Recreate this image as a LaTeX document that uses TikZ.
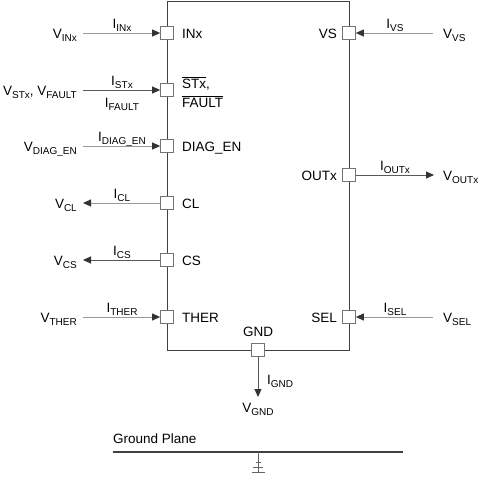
\documentclass[tikz,border=0pt]{standalone}
\usepackage{fontspec}
\setmainfont{Liberation Sans}
\usetikzlibrary{arrows.meta}
\newcommand\sbs[1]{\raisebox{-3.5pt}{\fontsize{10}{10}\selectfont #1}}
\newcommand\ovl[1]{$\overline{\mbox{#1}}$}
\begin{document}
\begin{tikzpicture}[x=1pt,y=-1pt,font=\fontsize{13.5}{16}\selectfont,
  chipbox/.style={draw=black!75,line width=1.3pt,inner sep=0pt},
  pinbox/.style={draw=black!55,fill=white,line width=0.7pt,minimum size=13pt,inner sep=0pt},
  txt/.style={inner sep=0pt},
  inarr/.style={draw=black!40,line width=1pt,-{Triangle[length=8pt,width=7pt,fill=black!80,color=black!80]}},
  outarr/.style={draw=black!65,line width=1pt,-{Triangle[length=8pt,width=7pt,fill=black!80,color=black!80]}},
  plane/.style={draw=black!75,line width=1.3pt},
  gnd/.style={draw=black!60,line width=1pt}]
\useasboundingbox (0,0) rectangle (479,483);
% chip
\node[chipbox,anchor=north west,minimum width=182pt,minimum height=349pt] (chip) at (167,1) {};
% pins left
\node[pinbox] (pINx) at (167,33) {};
\node[pinbox] (pSTx) at (167,90) {};
\node[pinbox] (pDIAG) at (167,146) {};
\node[pinbox] (pCL) at (167,203) {};
\node[pinbox] (pCS) at (167,260) {};
\node[pinbox] (pTHER) at (167,317) {};
% pins right
\node[pinbox] (pVS) at (349,33) {};
\node[pinbox] (pOUT) at (349,175) {};
\node[pinbox] (pSEL) at (349,317) {};
% pin bottom
\node[pinbox] (pGND) at (258,350) {};
% pin labels
\node[txt,anchor=base west] (lINx) at (182,38) {INx};
\node[txt,anchor=base west] (lSTx) at (182,88) {\ovl{STx},};
\node[txt,anchor=base west] (lFAULT) at (182,107) {\ovl{FAULT}};
\node[txt,anchor=base west] (lDIAG) at (182,151) {DIAG\_EN};
\node[txt,anchor=base west] (lCL) at (182,208) {CL};
\node[txt,anchor=base west] (lCS) at (182,265) {CS};
\node[txt,anchor=base west] (lTHER) at (182,322) {THER};
\node[txt,anchor=base east] (lVS) at (337,38) {VS};
\node[txt,anchor=base east] (lOUT) at (337,180) {OUTx};
\node[txt,anchor=base east] (lSEL) at (337,322) {SEL};
\node[txt,anchor=base] (lGND) at (258,336) {GND};
% voltage labels left
\node[txt,anchor=base east] (vINx) at (77,38) {V\sbs{INx}};
\node[txt,anchor=base east] (vSTx) at (77,95) {V\sbs{STx}, V\sbs{FAULT}};
\node[txt,anchor=base east] (vDIAG) at (77,151) {V\sbs{DIAG\_EN}};
\node[txt,anchor=base east] (vCL) at (77,208) {V\sbs{CL}};
\node[txt,anchor=base east] (vCS) at (77,265) {V\sbs{CS}};
\node[txt,anchor=base east] (vTHER) at (77,322) {V\sbs{THER}};
% voltage labels right
\node[txt,anchor=base west] (vVS) at (443,38) {V\sbs{VS}};
\node[txt,anchor=base west] (vOUT) at (443,180) {V\sbs{OUTx}};
\node[txt,anchor=base west] (vSEL) at (443,322) {V\sbs{SEL}};
\node[txt,anchor=base] (vGND) at (258,412) {V\sbs{GND}};
% connectors
\draw[inarr] ([xshift=6pt]vINx.east |- pINx) -- (pINx.west);
\draw[outarr] ([xshift=6pt]vSTx.east |- pSTx) -- (pSTx.west);
\draw[inarr] ([xshift=6pt]vDIAG.east |- pDIAG) -- (pDIAG.west);
\draw[inarr] (pCL.west) -- ([xshift=6pt]vCL.east |- pCL);
\draw[outarr] (pCS.west) -- ([xshift=6pt]vCS.east |- pCS);
\draw[inarr] ([xshift=6pt]vTHER.east |- pTHER) -- (pTHER.west);
\draw[inarr] ([xshift=-10pt]vVS.west |- pVS) -- (pVS.east);
\draw[outarr] (pOUT.east) -- ([xshift=-9pt]vOUT.west |- pOUT);
\draw[inarr] ([xshift=-10pt]vSEL.west |- pSEL) -- (pSEL.east);
\coordinate (gndtip) at (258,397);
\draw[outarr] (pGND.south) -- (gndtip);
% current labels
\node[txt,anchor=base] (iINx) at (122,28) {I\sbs{INx}};
\node[txt,anchor=base] (iSTx) at (122,85) {I\sbs{STx}};
\node[txt,anchor=base] (iFAULT) at (122,107) {I\sbs{FAULT}};
\node[txt,anchor=base] (iDIAG) at (122,141) {I\sbs{DIAG\_EN}};
\node[txt,anchor=base] (iCL) at (122,198) {I\sbs{CL}};
\node[txt,anchor=base] (iCS) at (122,255) {I\sbs{CS}};
\node[txt,anchor=base] (iTHER) at (122,312) {I\sbs{THER}};
\node[txt,anchor=base] (iVS) at (395,28) {I\sbs{VS}};
\node[txt,anchor=base] (iOUT) at (395,170) {I\sbs{OUTx}};
\node[txt,anchor=base] (iSEL) at (395,312) {I\sbs{SEL}};
\node[txt,anchor=base west] (iGND) at (267,384) {I\sbs{GND}};
% ground plane
\node[txt,anchor=base west] (gplabel) at (113,443) {Ground Plane};
\coordinate (gpl) at (113,452);
\coordinate (gpr) at (403,452);
\draw[plane] (gpl) -- (gpr);
\coordinate (gtop) at (258,452);
\coordinate (gbot) at (258,472);
\draw[gnd] (gtop) -- (gbot);
\draw[gnd] ([xshift=-6.5pt]gbot) -- ([xshift=6.5pt]gbot);
\draw[gnd] ([xshift=-5pt,yshift=5pt]gbot) -- ([xshift=5pt,yshift=5pt]gbot);
\draw[gnd] ([xshift=-2.5pt,yshift=10pt]gbot) -- ([xshift=2.5pt,yshift=10pt]gbot);
\end{tikzpicture}
\end{document}
